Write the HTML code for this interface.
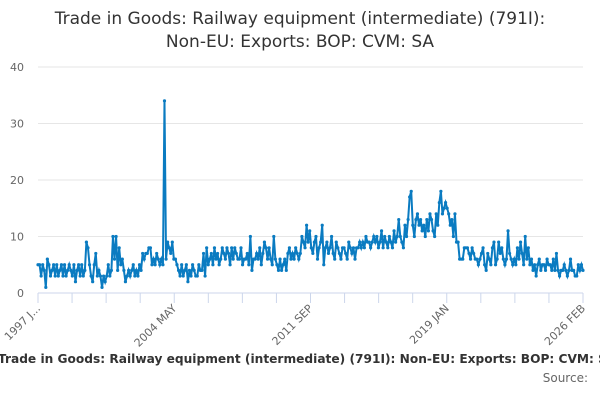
<!DOCTYPE html>
<html><head><meta charset="utf-8"><style>
body{margin:0;width:600px;height:400px;overflow:hidden;background:#fff;font-family:"DejaVu Sans","Liberation Sans",sans-serif;}
svg{display:block}
</style></head><body>
<svg id="chart" width="600" height="400">
<text x="300" y="24" text-anchor="middle" font-size="17" fill="#333">Trade in Goods: Railway equipment (intermediate) (791I):</text>
<text x="300" y="47" text-anchor="middle" font-size="17" fill="#333">Non-EU: Exports: BOP: CVM: SA</text>
<g id="grid"></g><g id="xaxis"></g><g id="series"></g>
<text x="-2" y="363" font-size="12.2" font-weight="bold" fill="#333">Trade in Goods: Railway equipment (intermediate) (791I): Non-EU: Exports: BOP: CVM: SA</text>
<text x="588" y="382" text-anchor="end" font-size="12" fill="#666">Source:</text>
</svg>
<script>
const yTicks=[0,10,20,30,40];
const xLabels=["1997 J...","2004 MAY","2011 SEP","2019 JAN","2026 FEB"];
const values=[
5,5,3,5,4,1,6,5,3,4,5,3,
5,3,4,5,3,5,3,4,5,4,3,5,
2,4,5,3,5,3,4,9,8,5,3,2,
5,7,3,4,3,1,3,2,3,5,3,4,
10,6,10,4,8,5,6,4,2,3,4,3,
4,5,3,4,3,5,4,7,6,7,7,8,
8,5,6,5,7,6,5,6,5,34,6,9,
8,7,9,6,6,5,4,3,5,3,4,5,
2,4,3,5,4,3,3,5,4,4,7,3,
8,5,6,7,5,8,6,7,5,6,8,7,
6,8,7,5,8,6,8,7,6,6,8,5,
6,6,7,5,10,4,6,6,7,6,8,5,
7,9,8,6,8,6,5,10,6,5,4,6,
4,5,6,4,7,8,6,7,6,8,7,6,
7,10,9,8,12,9,11,8,7,9,10,6,
8,9,12,5,8,9,7,8,10,7,6,9,
8,7,6,8,8,7,6,9,8,7,8,6,
8,8,9,8,9,8,10,9,9,8,9,10,
9,10,8,9,11,8,10,9,8,10,9,8,
11,9,10,13,10,9,8,12,10,13,17,18,
12,10,13,14,12,13,11,12,10,13,11,14,
13,11,10,14,12,16,18,14,15,16,15,14,
12,13,10,14,9,9,6,6,6,8,8,8,
7,6,8,7,6,6,5,6,7,8,5,4,
7,6,5,8,9,5,6,9,7,8,6,5,
6,11,7,6,5,6,5,8,6,9,7,5,
10,6,8,5,6,4,5,3,5,6,4,5,
5,4,6,5,5,4,6,4,7,4,3,4,
4,5,4,3,4,6,4,4,3,3,5,4,
5,4];
const NS="http://www.w3.org/2000/svg";
const X0=38,X1=583,Y0=293,Y1=67;
const xs=i=>X0+(X1-X0)*i/(values.length-1);
const ys=v=>Y0-(Y0-Y1)*v/40;
const grid=document.getElementById('grid');
yTicks.forEach(t=>{
 const l=document.createElementNS(NS,'line');
 
 
 l.setAttribute('x1',X0);l.setAttribute('x2',X1);l.setAttribute('y1',ys(t));l.setAttribute('y2',ys(t));
 l.setAttribute('stroke',t===0?'#ccd6eb':'#e6e6e6');grid.appendChild(l);
 const tx=document.createElementNS(NS,'text');
 
 
 tx.setAttribute('x',24);tx.setAttribute('y',ys(t)+4);tx.setAttribute('text-anchor','end');
 tx.setAttribute('font-size','11');tx.setAttribute('fill','#666');tx.textContent=t;grid.appendChild(tx);
});
const xa=document.getElementById('xaxis');
for(let k=0;k<=16;k++){
 const x=X0+(X1-X0)*k/16;
 const l=document.createElementNS(NS,'line');
 
 
 l.setAttribute('x1',x);l.setAttribute('x2',x);l.setAttribute('y1',Y0);l.setAttribute('y2',Y0+10);
 l.setAttribute('stroke','#ccd6eb');xa.appendChild(l);
 if(k%4===0){
  const tx=document.createElementNS(NS,'text');
  
  
  tx.setAttribute('x',x+3);tx.setAttribute('y',Y0+16);tx.setAttribute('text-anchor','end');
  tx.setAttribute('font-size','11');tx.setAttribute('fill','#666');
  tx.setAttribute('transform',`rotate(-45 ${x+3} ${Y0+16})`);
  tx.textContent=xLabels[k/4];xa.appendChild(tx);
 }
}
const s=document.getElementById('series');
const p=document.createElementNS(NS,'path');


p.setAttribute('d',values.map((v,i)=>(i?'L':'M')+xs(i).toFixed(2)+' '+ys(v).toFixed(2)).join(''));
p.setAttribute('fill','none');p.setAttribute('stroke','#0a7bc1');p.setAttribute('stroke-width','2');
s.appendChild(p);
values.forEach((v,i)=>{
 const c=document.createElementNS(NS,'circle');
 
 
 c.setAttribute('cx',xs(i));c.setAttribute('cy',ys(v));c.setAttribute('r','1.6');c.setAttribute('fill','#0a7bc1');
 s.appendChild(c);
});
</script>
</body></html>
